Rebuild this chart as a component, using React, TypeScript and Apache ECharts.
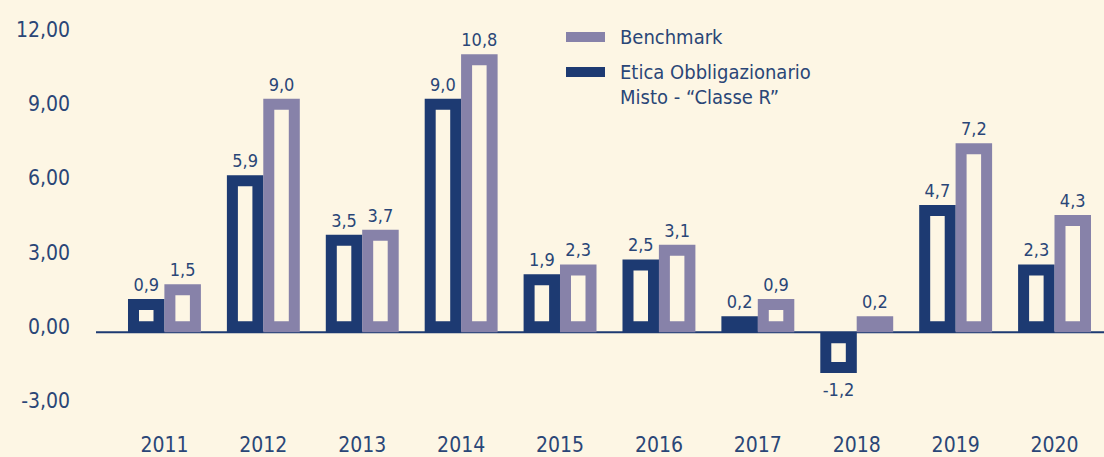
import React, { useEffect, useRef } from "react";
import * as echarts from "echarts";

const years = ["2011", "2012", "2013", "2014", "2015", "2016", "2017", "2018", "2019", "2020"];
const eticaValues = [0.9, 5.9, 3.5, 9.0, 1.9, 2.5, 0.2, -1.2, 4.7, 2.3];
const benchmarkValues = [1.5, 9.0, 3.7, 10.8, 2.3, 3.1, 0.9, 0.2, 7.2, 4.3];
const yMin = -3;
const yMax = 12;
const yStep = 3;

const ETICA = "Etica Obbligazionario\nMisto - “Classe R”";
const BENCH = "Benchmark";

const NAVY = "#1d3a72";
const LAVENDER = "#8782a9";
const CREAM = "#fdf6e4";
const TEXT = "#2a4677";
const FONT = "'DejaVu Sans Condensed', 'DejaVu Sans', sans-serif";

const fmt1 = (v: number) => v.toFixed(1).replace(".", ",");
const fmt2 = (v: number) => v.toFixed(2).replace(".", ",");

const BAR_FRAC = 0.258; // bar width as a fraction of the category band
const OFFSET_FRAC = 0.184; // bar centre offset from category centre, fraction of band
const STROKE = 11;

function makeRenderItem(side: number, color: string) {
  return (params: any, api: any) => {
    const idx = api.value(0);
    const v = api.value(1);
    const base = api.coord([idx, 0]);
    const tip = api.coord([idx, v]);
    const band = api.size([1, 0])[0];
    const w = band * BAR_FRAC;
    const cx = base[0] + side * band * OFFSET_FRAC;
    const h = Math.abs(base[1] - tip[1]);
    // bars hang from the baseline drawn under the zero line
    const y = v >= 0 ? tip[1] : base[1] + STROKE;
    const labelY = v >= 0 ? tip[1] - 20 : base[1] + h + STROKE * 1.5 + 17;
    return {
      type: "group",
      children: [
        {
          type: "rect",
          shape: { x: cx - w / 2, y, width: w, height: h },
          style: { fill: CREAM, stroke: color, lineWidth: STROKE },
        },
        {
          type: "text",
          style: {
            text: fmt1(v),
            x: cx,
            y: labelY,
            align: "center",
            verticalAlign: "middle",
            fill: TEXT,
            fontSize: 18,
            fontFamily: FONT,
          },
        },
      ],
    };
  };
}

export default function App() {
  const ref = useRef<HTMLDivElement>(null);

  useEffect(() => {
    if (!ref.current) return;
    const chart = echarts.init(ref.current, undefined, { renderer: "svg" });

    chart.setOption({
      animation: false,
      backgroundColor: CREAM,
      grid: { left: 115, right: -17, top: 30, bottom: 56, containLabel: false },
      legend: [
        {
          orient: "vertical",
          left: 566,
          top: 24.5,
          padding: 0,
          icon: "rect",
          itemWidth: 39,
          itemHeight: 10,
          selectedMode: false,
          textStyle: { color: TEXT, fontSize: 20, lineHeight: 25, fontFamily: FONT, padding: [0, 0, 0, 10] },
          data: [{ name: BENCH, itemStyle: { color: LAVENDER, borderWidth: 0 } }],
        },
        {
          orient: "vertical",
          left: 566,
          top: 34.5,
          padding: 0,
          icon: "rect",
          itemWidth: 39,
          itemHeight: 10,
          selectedMode: false,
          formatter: (name: string) => "\n" + name,
          textStyle: { color: TEXT, fontSize: 20, lineHeight: 25, fontFamily: FONT, padding: [0, 0, 0, 10] },
          data: [{ name: ETICA, itemStyle: { color: NAVY, borderWidth: 0 } }],
        },
      ],
      xAxis: {
        type: "category",
        data: years,
        axisLine: { show: false, onZero: false },
        axisTick: { show: false },
        axisLabel: { color: TEXT, fontSize: 21, fontFamily: FONT, margin: 33 },
      },
      yAxis: {
        type: "value",
        min: yMin,
        max: yMax,
        interval: yStep,
        axisLine: { show: false },
        axisTick: { show: false },
        splitLine: { show: false },
        axisLabel: {
          color: TEXT,
          fontSize: 21,
          fontFamily: FONT,
          margin: 45,
          formatter: (v: number) => fmt2(v),
        },
      },
      series: [
        {
          name: ETICA,
          type: "custom",
          data: eticaValues.map((v, i) => [i, v]),
          encode: { x: 0, y: 1 },
          itemStyle: { color: NAVY },
          renderItem: makeRenderItem(-1, NAVY),
          z: 2,
        },
        {
          name: BENCH,
          type: "custom",
          data: benchmarkValues.map((v, i) => [i, v]),
          encode: { x: 0, y: 1 },
          itemStyle: { color: LAVENDER },
          renderItem: makeRenderItem(1, LAVENDER),
          z: 2,
        },
      ],
    });

    const y0 = chart.convertToPixel({ yAxisIndex: 0 }, 0) as number;
    const baseline = y0 + STROKE / 2;
    chart.setOption({
      graphic: [
        {
          type: "line",
          z: 0,
          silent: true,
          shape: { x1: 96, y1: baseline, x2: 1104, y2: baseline },
          style: { stroke: NAVY, lineWidth: 2 },
        },
      ],
    });

    return () => chart.dispose();
  }, []);

  return (
    <div
      ref={ref}
      style={{ position: "absolute", left: 0, top: 0, width: 1104, height: 457 }}
    />
  );
}
